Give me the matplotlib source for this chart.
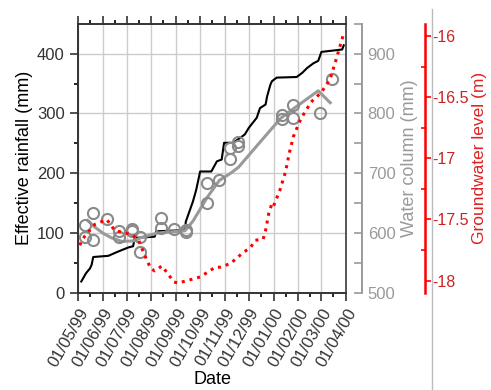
import numpy as np
import pandas as pd
import matplotlib
matplotlib.use("Agg")
import matplotlib.pyplot as plt
import matplotlib.dates as mdates
from matplotlib.lines import Line2D

plt.rcParams['font.family'] = ['Liberation Sans', 'DejaVu Sans']

# cumulative effective rainfall (mm)
rain_dates = ["1999-05-05", "1999-05-11", "1999-05-16", "1999-05-18", "1999-05-20",
              "1999-06-08", "1999-06-20", "1999-07-03", "1999-07-09", "1999-07-11",
              "1999-08-05", "1999-08-07", "1999-09-12", "1999-09-13", "1999-09-22",
              "1999-09-26", "1999-10-01", "1999-10-15", "1999-10-22", "1999-10-28",
              "1999-10-31", "1999-11-11", "1999-11-20", "1999-11-26", "1999-12-01",
              "1999-12-11", "1999-12-15", "1999-12-22", "1999-12-24", "1999-12-28",
              "1999-12-30", "2000-01-05", "2000-01-30", "2000-02-06", "2000-02-12",
              "2000-02-20", "2000-02-26", "2000-03-01", "2000-03-27", "2000-03-29"]
rain_vals = [19, 33, 41, 47, 60,
             62, 69, 76, 78, 92,
             94, 103, 105, 119, 153,
             172, 203, 203, 220, 223,
             251, 251, 259, 265, 276,
             293, 309, 315, 329, 348,
             354, 360, 361, 368, 376,
             384, 388, 403, 407, 414]

# water column observations (mm)
obs_dates = ["1999-05-10", "1999-05-10", "1999-05-20", "1999-05-20", "1999-06-06",
             "1999-06-21", "1999-06-21", "1999-07-08", "1999-07-08", "1999-07-18",
             "1999-07-18", "1999-08-13", "1999-08-13", "1999-08-29", "1999-09-13",
             "1999-09-13", "1999-10-10", "1999-10-10", "1999-10-25", "1999-11-08",
             "1999-11-08", "1999-11-18", "1999-11-18", "2000-01-11", "2000-01-11",
             "2000-01-26", "2000-01-26", "2000-02-28", "2000-03-14"]
obs_vals = [614, 594, 633, 589, 624,
            603, 593, 607, 603, 569,
            594, 626, 608, 607, 605,
            602, 683, 651, 689, 724,
            742, 745, 752, 798, 790,
            815, 793, 801, 857]

# smoothed water column (mm)
fit_dates = ["1999-05-13", "1999-05-22", "1999-06-01", "1999-06-12", "1999-06-25",
             "1999-07-10", "1999-07-20", "1999-08-08", "1999-08-25", "1999-09-12",
             "1999-09-22", "1999-10-01", "1999-10-10", "1999-10-25", "1999-11-08",
             "1999-11-18", "1999-12-15", "2000-01-10", "2000-01-28", "2000-02-26",
             "2000-03-12"]
fit_vals = [621, 610, 600, 592, 586,
            587, 593, 600, 602, 604,
            620, 640, 660, 688, 700,
            710, 752, 792, 810, 838,
            818]

# groundwater level (m)
gw_dates = ["1999-05-03", "1999-05-09", "1999-05-22", "1999-06-06", "1999-06-16",
            "1999-06-29", "1999-07-09", "1999-07-16", "1999-07-22", "1999-07-31",
            "1999-08-05", "1999-08-14", "1999-08-20", "1999-08-29", "1999-09-03",
            "1999-09-20", "1999-10-01", "1999-10-20", "1999-10-26", "1999-11-08",
            "1999-11-24", "1999-12-03", "1999-12-09", "1999-12-19", "1999-12-22",
            "1999-12-26", "1999-12-30", "2000-01-01", "2000-01-09", "2000-01-16",
            "2000-01-21", "2000-01-26", "2000-02-04", "2000-02-17", "2000-03-01",
            "2000-03-12", "2000-03-20", "2000-03-28"]
gw_vals = [-17.71, -17.64, -17.54, -17.50, -17.59,
           -17.61, -17.63, -17.67, -17.77, -17.90,
           -17.92, -17.88, -17.93, -18.01, -18.02,
           -17.99, -17.97, -17.89, -17.89, -17.86,
           -17.77, -17.73, -17.67, -17.66, -17.59,
           -17.45, -17.37, -17.39, -17.26, -17.11,
           -16.95, -16.82, -16.68, -16.54, -16.46,
           -16.35, -16.18, -16.00]

grey = "#9a9a9a"

fig = plt.figure(figsize=(4.91, 3.9), dpi=100)
ax = fig.add_axes([0.159, 0.249, 0.546, 0.690])

ax.plot(pd.to_datetime(rain_dates), rain_vals, color="black", lw=1.5, zorder=4)
ax.set_ylim(0, 450)
ax.set_xlim(pd.Timestamp("1999-05-01"), pd.Timestamp("2000-04-01"))
ax.set_yticks([0, 100, 200, 300, 400])
ax.set_yticks([50, 150, 250, 350], minor=True)
ax.xaxis.set_major_locator(mdates.MonthLocator(bymonthday=1))
ax.xaxis.set_minor_locator(mdates.MonthLocator(bymonthday=16))
ax.xaxis.set_major_formatter(mdates.DateFormatter("%d/%m/%y"))
ax.grid(True, which="major", color="#cccccc", lw=1)
ax.set_axisbelow(True)
ax.tick_params(axis="both", which="major", length=6, width=1.2, labelsize=12,
               colors="#333333", direction="out", top=True)
ax.tick_params(axis="both", which="minor", length=3, width=1.2, direction="out", top=True)
for lab in ax.get_xticklabels():
    lab.set_rotation(60)
    lab.set_ha("right")
    lab.set_rotation_mode("anchor")
for s in ["left", "bottom", "top"]:
    ax.spines[s].set_linewidth(1.4)
    ax.spines[s].set_color("#333333")
ax.spines["right"].set_linewidth(1.4)
ax.spines["right"].set_color("#555555")
ax.set_ylabel("Effective rainfall (mm)", fontsize=13, labelpad=3)
ax.set_xlabel("Date", fontsize=13, labelpad=1)

# water column axis
ax2 = ax.twinx()
ax2.plot(pd.to_datetime(fit_dates), fit_vals, color=grey, lw=2.2, zorder=3)
ax2.plot(pd.to_datetime(obs_dates), obs_vals, "o", ms=8, mfc="none", mec="#8a8a8a",
         mew=1.5, zorder=3)
ax2.set_ylim(500, 950)
ax2.set_yticks([500, 600, 700, 800, 900])
ax2.set_yticks([550, 650, 750, 850, 950], minor=True)
ax2.spines["right"].set_position(("outward", 11.5))
ax2.spines["right"].set_color(grey)
ax2.spines["right"].set_linewidth(1.4)
for s in ["left", "top", "bottom"]:
    ax2.spines[s].set_visible(False)
ax2.tick_params(axis="y", which="both", direction="in", colors=grey, width=1.2,
                labelsize=12)
ax2.tick_params(axis="y", which="major", length=6, pad=4)
ax2.tick_params(axis="y", which="minor", length=6)
ax2.set_ylabel("Water column (mm)", fontsize=13, color=grey, labelpad=4)

# groundwater axis
ax3 = ax.twinx()
ax3.plot(pd.to_datetime(gw_dates), gw_vals, color="red", lw=2.2,
         linestyle=(0, (1, 1.6)), zorder=5)
ax3.set_ylim(-18.1, -15.9)
ax3.set_yticks([-18, -17.5, -17, -16.5, -16])
ax3.set_yticklabels(["-18", "-17.5", "-17", "-16.5", "-16"])
ax3.set_yticks([-17.75, -17.25, -16.75, -16.25], minor=True)
ax3.spines["right"].set_position(("outward", 57))
ax3.spines["right"].set_color("red")
ax3.spines["right"].set_linewidth(1.8)
for s in ["left", "top", "bottom"]:
    ax3.spines[s].set_visible(False)
ax3.tick_params(axis="y", which="major", direction="out", length=4, width=1.2,
                colors="red", labelsize=11.5, pad=1)
ax3.tick_params(axis="y", which="minor", direction="in", length=3, width=1.2, colors="red")
for lab in ax3.get_yticklabels():
    lab.set_color("#cc2222")
ax3.set_ylabel("Groundwater level (m)", fontsize=12.5, color="#dd2222", labelpad=2)

fig.add_artist(Line2D([432 / 491, 432 / 491], [0, 1 - 9 / 390], color="#bbbbbb", lw=1))

fig.savefig("out.png", dpi=100)
